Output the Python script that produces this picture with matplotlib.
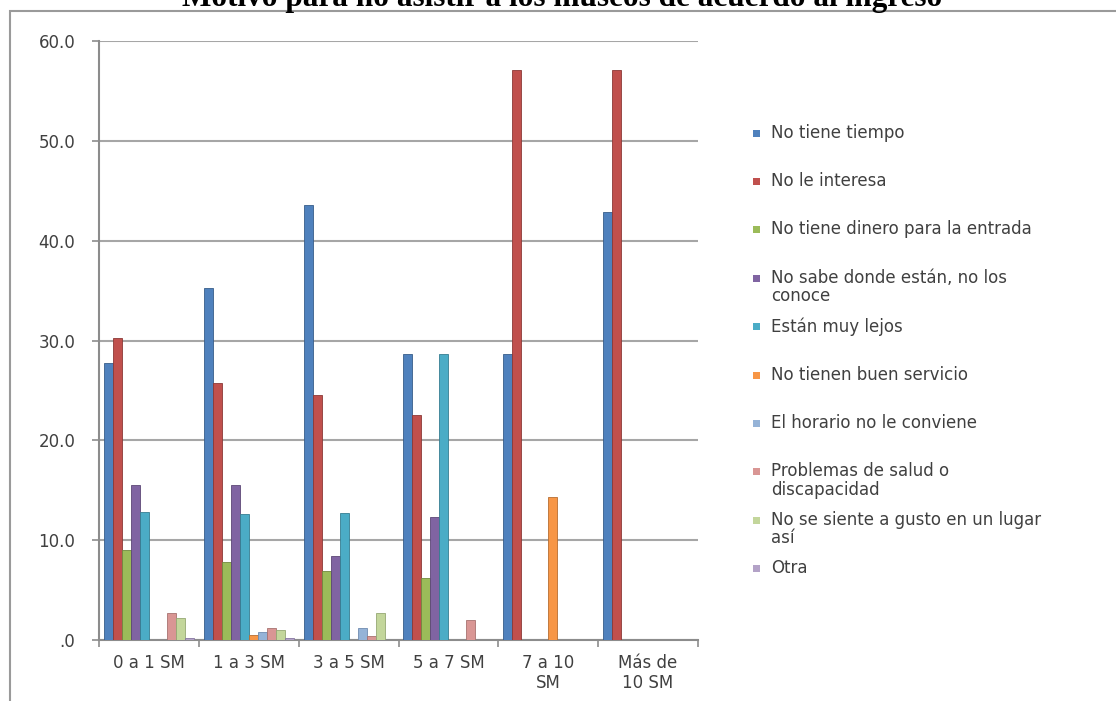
import matplotlib
matplotlib.use('Agg')
import matplotlib.pyplot as plt
import numpy as np
from matplotlib.patches import Rectangle
from matplotlib.ticker import FuncFormatter, FixedLocator

# ingreso (salarios minimos)
grupos = ['0 a 1 SM', '1 a 3 SM', '3 a 5 SM', '5 a 7 SM', '7 a 10\nSM', 'Más de\n10 SM']

motivos = ['No tiene tiempo',
           'No le interesa',
           'No tiene dinero para la entrada',
           'No sabe donde están, no los\nconoce',
           'Están muy lejos',
           'No tienen buen servicio',
           'El horario no le conviene',
           'Problemas de salud o\ndiscapacidad',
           'No se siente a gusto en un lugar\nasí',
           'Otra']

no_tiempo   = [27.7, 35.3, 43.6, 28.6, 28.6, 42.9]
no_interesa = [30.3, 25.7, 24.5, 22.5, 57.1, 57.1]
no_dinero   = [9.0, 7.8, 6.9, 6.2, 0.0, 0.0]
no_sabe     = [15.5, 15.5, 8.4, 12.3, 0.0, 0.0]
lejos       = [12.8, 12.6, 12.7, 28.6, 0.0, 0.0]
servicio    = [0.0, 0.5, 0.0, 0.0, 14.3, 0.0]
horario     = [0.0, 0.8, 1.2, 0.0, 0.0, 0.0]
salud       = [2.7, 1.2, 0.4, 2.0, 0.0, 0.0]
gusto       = [2.2, 1.0, 2.7, 0.0, 0.0, 0.0]
otra        = [0.2, 0.2, 0.0, 0.0, 0.0, 0.0]

series = [no_tiempo, no_interesa, no_dinero, no_sabe, lejos,
          servicio, horario, salud, gusto, otra]

colores = ['#4F81BD', '#C0504D', '#9BBB59', '#8064A2', '#4BACC6',
           '#F79646', '#95B3D7', '#D99694', '#C3D69B', '#B3A2C7']
bordes = ['#385D8A', '#8C3836', '#71893F', '#5C4776', '#357D91',
          '#B66D31', '#6F8BB0', '#A87270', '#95A873', '#8677A0']

font_tick = {'family': 'DejaVu Sans', 'size': 12, 'color': '#404040'}

fig = plt.figure(figsize=(11.16, 7.01), dpi=100)

# marco del grafico
fig.patches.append(Rectangle((10/1116, -0.01), 1.1, 1 - 11/701 + 0.01,
                             transform=fig.transFigure, fill=False,
                             edgecolor='#9A9A9A', linewidth=1.5))

# titulo (queda cortado por el borde superior)
fig.text(562/1116, 1 - 6/701, 'Motivo para no asistir a los museos de acuerdo al ingreso',
         ha='center', va='baseline', family='Liberation Serif',
         weight='bold', size=22.5, color='black')

ax = fig.add_axes([99/1116, 1 - 640/701, (698 - 99)/1116, (640 - 41)/701])

x = np.arange(len(grupos))
n = len(series)
w = 0.09
for i, (vals, c, ec) in enumerate(zip(series, colores, bordes)):
    ax.bar(x + (i - (n - 1)/2)*w, vals, width=w, color=c,
           edgecolor=ec, linewidth=0.6, zorder=3)

ax.set_xlim(-0.5, len(grupos) - 0.5)
ax.set_ylim(0, 60)
ax.set_yticks(np.arange(0, 61, 10))
ax.yaxis.set_major_formatter(FuncFormatter(lambda v, p: '.0' if v == 0 else '%.1f' % v))
ax.grid(axis='y', color='#A6A6A6', linewidth=1.5, zorder=0)

ax.set_xticks(x)
ax.set_xticklabels(grupos, linespacing=1.15)
ax.xaxis.set_minor_locator(FixedLocator(np.arange(-0.5, len(grupos), 1)))
ax.tick_params(axis='x', which='major', length=0, pad=10)
ax.tick_params(axis='x', which='minor', length=5, color='#8C8C8C', width=1.2)
ax.tick_params(axis='y', length=5, color='#8C8C8C', width=1.2, pad=12)
for lab in ax.get_xticklabels() + ax.get_yticklabels():
    lab.set_fontfamily(font_tick['family'])
    lab.set_fontsize(font_tick['size'])
    lab.set_color(font_tick['color'])

for s in ['top', 'right']:
    ax.spines[s].set_visible(False)
for s in ['left', 'bottom']:
    ax.spines[s].set_color('#8C8C8C')
    ax.spines[s].set_linewidth(1.5)

# leyenda a la derecha
y0 = 133
paso = 48.4
for i, (txt, c) in enumerate(zip(motivos, colores)):
    yy = 1 - (y0 + i*paso)/701
    fig.patches.append(Rectangle((753/1116, yy - 3.5/701), 7/1116, 7/701,
                                 transform=fig.transFigure, facecolor=c,
                                 edgecolor='none'))
    fig.text(771/1116, yy + 9.5/701, txt, ha='left', va='top',
             family='DejaVu Sans', size=12, color='#404040', linespacing=1.05)

plt.savefig('out.png', dpi=100)
print("plot success!")
